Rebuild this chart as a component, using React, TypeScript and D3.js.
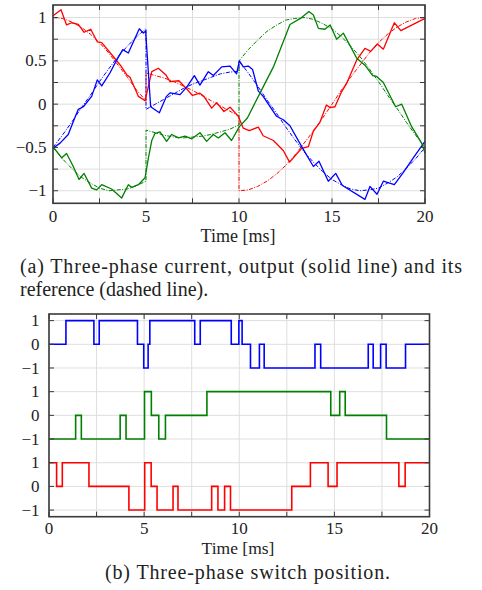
import React from "react";
import * as d3 from "d3";

// reference currents (dash-dot), sampled every 0.5 ms, steps at 5 ms and 10 ms
const refTime = [0, 0.5, 1, 1.5, 2, 2.5, 3, 3.5, 4, 4.5, 5, 5, 5.5, 6, 6.5, 7, 7.5, 8, 8.5, 9, 9.5, 10, 10, 10.5, 11, 11.5, 12, 12.5, 13, 13.5, 14, 14.5, 15, 15.5, 16, 16.5, 17, 17.5, 18, 18.5, 19, 19.5, 20];
const refRed = [1, 0.99, 0.95, 0.89, 0.81, 0.71, 0.59, 0.45, 0.31, 0.16, 0.04, 0.36, 0.33, 0.3, 0.26, 0.21, 0.16, 0.1, 0.04, -0.02, -0.08, -0.14, -1, -0.99, -0.95, -0.89, -0.81, -0.71, -0.59, -0.45, -0.31, -0.16, 0, 0.16, 0.31, 0.45, 0.59, 0.71, 0.81, 0.89, 0.95, 0.99, 1];
const refBlue = [-0.5, -0.36, -0.21, -0.05, 0.1, 0.26, 0.41, 0.55, 0.67, 0.78, 0.87, -0.06, 0, 0.06, 0.12, 0.18, 0.23, 0.27, 0.31, 0.35, 0.37, 0.38, 0.5, 0.36, 0.21, 0.05, -0.1, -0.26, -0.41, -0.55, -0.67, -0.78, -0.87, -0.93, -0.98, -1, -0.99, -0.97, -0.91, -0.84, -0.74, -0.63, -0.5];
const refGreen = [-0.5, -0.63, -0.74, -0.84, -0.91, -0.97, -1, -0.99, -0.98, -0.94, -0.89, -0.3, -0.33, -0.36, -0.38, -0.39, -0.38, -0.37, -0.35, -0.32, -0.29, -0.24, 0.5, 0.63, 0.74, 0.84, 0.91, 0.97, 0.99, 1, 0.98, 0.93, 0.87, 0.78, 0.67, 0.55, 0.41, 0.26, 0.1, -0.05, -0.21, -0.36, -0.5];

// measured currents (solid)
const redT = [0, 0.43, 0.73, 1.0, 1.36, 1.67, 2.03, 2.38, 2.62, 3.24, 3.64, 3.96, 4.14, 4.59, 4.95, 5.31, 5.66, 6.06, 6.29, 6.77, 7.1, 7.5, 7.9, 8.12, 8.53, 8.8, 9.19, 9.52, 9.96, 10.23, 10.55, 11.04, 11.3, 11.85, 12.38, 12.72, 13.37, 13.73, 14.0, 14.35, 14.7, 14.9, 15.16, 15.52, 15.79, 16.33, 16.77, 17.08, 17.44, 17.76, 18.35, 18.7, 20];
const redI = [1.02, 1.09, 0.915, 0.94, 0.92, 0.83, 0.865, 0.72, 0.71, 0.55, 0.445, 0.34, 0.31, 0.09, 0.04, 0.376, 0.415, 0.34, 0.26, 0.27, 0.196, 0.1, 0.127, 0.088, -0.046, 0.018, -0.085, -0.035, -0.14, -0.277, -0.305, -0.265, -0.365, -0.42, -0.535, -0.67, -0.51, -0.49, -0.31, -0.21, -0.01, -0.04, -0.03, 0.145, 0.24, 0.51, 0.645, 0.61, 0.695, 0.635, 0.94, 0.85, 0.99];
const blueT = [0, 0.38, 0.82, 1.13, 1.36, 1.63, 2.08, 2.38, 2.62, 3.06, 3.4, 3.75, 4.05, 4.64, 4.86, 4.98, 5.25, 5.72, 6.1, 6.29, 6.83, 7.2, 7.6, 7.9, 8.35, 8.62, 9.07, 9.52, 9.87, 10.02, 10.23, 10.5, 10.73, 11.04, 11.3, 12.02, 12.38, 12.74, 13.37, 14.0, 14.3, 14.8, 15.2, 15.56, 16.77, 17.04, 17.42, 17.76, 18.35, 18.8, 19.37, 20];
const blueI = [-0.51, -0.45, -0.35, -0.18, -0.06, -0.03, 0.09, 0.28, 0.21, 0.36, 0.5, 0.63, 0.59, 0.87, 0.82, 0.845, -0.03, -0.1, 0.09, 0.13, 0.11, 0.2, 0.33, 0.22, 0.375, 0.33, 0.43, 0.44, 0.35, 0.5, 0.43, 0.44, 0.4, 0.15, 0.09, -0.14, -0.18, -0.25, -0.49, -0.72, -0.66, -0.89, -0.8, -0.94, -1.1, -0.95, -1.04, -0.89, -0.93, -0.8, -0.62, -0.43];
const greenT = [0, 0.47, 0.73, 1.09, 1.4, 1.67, 2.08, 2.35, 2.62, 3.15, 3.69, 4.05, 4.23, 4.59, 4.95, 5.13, 5.31, 5.48, 5.75, 6.11, 6.38, 6.74, 7.1, 7.46, 7.9, 8.26, 8.62, 8.89, 9.25, 9.6, 10.02, 10.45, 11.3, 11.85, 12.74, 13.3, 13.76, 14.0, 14.27, 14.62, 14.9, 15.25, 15.61, 16.33, 16.77, 17.19, 17.4, 17.76, 18.42, 18.75, 19.28, 19.82, 20];
const greenI = [-0.49, -0.62, -0.57, -0.72, -0.87, -0.8, -0.97, -0.99, -0.93, -0.98, -1.085, -0.93, -0.96, -0.93, -0.85, -0.62, -0.42, -0.34, -0.32, -0.43, -0.35, -0.39, -0.37, -0.4, -0.33, -0.43, -0.35, -0.39, -0.33, -0.42, -0.26, -0.16, 0.2, 0.43, 0.92, 0.99, 1.07, 1.03, 0.875, 0.865, 0.915, 0.75, 0.82, 0.53, 0.45, 0.33, 0.32, 0.25, -0.03, 0.0, -0.26, -0.45, -0.565];

// switch positions (value holds from each time until the next)
const swBlueT = [0, 0.89, 2.36, 2.64, 4.65, 4.98, 5.21, 5.3, 7.66, 7.95, 9.58, 9.98, 10.15, 10.59, 11.06, 11.31, 13.98, 14.28, 16.78, 17.04, 17.43, 17.72, 18.74, 20];
const swBlue = [0, 1, 0, 1, 0, -1, 0, 1, 0, 1, 0, 1, 0, -1, 0, -1, 0, -1, 0, -1, 0, -1, 0, 0];
const swGreenT = [0, 1.4, 1.7, 3.74, 4.05, 5.02, 5.38, 5.77, 6.12, 8.3, 14.81, 15.28, 15.57, 17.74, 20];
const swGreen = [-1, 0, -1, 0, -1, 1, 0, -1, 0, 1, 0, 1, 0, -1, -1];
const swRedT = [0, 0.4, 0.7, 2.1, 4.2, 5.03, 5.37, 5.68, 6.52, 6.78, 8.55, 8.88, 9.23, 9.54, 12.76, 13.74, 14.67, 15.14, 18.39, 18.72, 20];
const swRed = [1, 0, 1, 0, -1, 1, 0, -1, 0, -1, 0, -1, 0, -1, 0, 1, 0, 1, 0, 1, 1];

const xTicks = [0, 5, 10, 15, 20];
const xMinor = [0, 2.5, 5, 7.5, 10, 12.5, 15, 17.5, 20];
const yTicksA = [1, 0.5, 0, -0.5, -1];
const yGridA = [-1, -0.75, -0.5, -0.25, 0, 0.25, 0.5, 0.75, 1];
const swLevels = [1, 0, -1];
const swOffsets = [3, 0, -3]; // blue, green, red rows

const BLUE = "#0000ff";
const GREEN = "#008000";
const RED = "#ff0000";
const FONT = "'Times New Roman', Times, 'Liberation Serif', Tinos, serif";
const fmt = (v: number) => (v < 0 ? "\u2212" + Math.abs(v) : String(v));

const zip = (t: number[], v: number[]) => t.map((d, i) => [d, v[i]] as [number, number]);

export default function App() {
  // (a) currents
  const xA = d3.scaleLinear().domain([0, 20]).range([53, 425]);
  const yA = d3.scaleLinear().domain([-1.145, 1.145]).range([203.3, 5]);
  const lineA = d3.line<[number, number]>().x((d) => xA(d[0])).y((d) => yA(d[1]));

  // (b) switch positions, three stacked rows
  const xB = d3.scaleLinear().domain([0, 20]).range([49, 429.5]);
  const yB = d3.scaleLinear().domain([-4.28, 4.28]).range([516.7, 314]);
  const stepB = (off: number) =>
    d3.line<[number, number]>().x((d) => xB(d[0])).y((d) => yB(d[1] + off)).curve(d3.curveStepAfter);

  const tick = 5;
  const frame = "#3a3a3a";
  const grid = "#dedede";

  const refs = [
    { v: refRed, c: RED },
    { v: refBlue, c: BLUE },
    { v: refGreen, c: GREEN },
  ];
  const meas = [
    { t: redT, v: redI, c: RED },
    { t: blueT, v: blueI, c: BLUE },
    { t: greenT, v: greenI, c: GREEN },
  ];
  const sw = [
    { t: swBlueT, v: swBlue, c: BLUE, off: swOffsets[0] },
    { t: swGreenT, v: swGreen, c: GREEN, off: swOffsets[1] },
    { t: swRedT, v: swRed, c: RED, off: swOffsets[2] },
  ];
  const rowLevels = swOffsets.flatMap((o) => swLevels.map((l) => ({ l, y: l + o })));

  const [ax0, ax1] = xA.range();
  const [ay1, ay0] = yA.range();
  const [bx0, bx1] = xB.range();
  const [by1, by0] = yB.range();

  return (
    <svg width={482} height={590} style={{ position: "absolute", left: 0, top: 0, background: "#fff", fontFamily: FONT }}>
      {/* ---- chart (a) ---- */}
      <g>
        {xMinor.map((t) => (
          <line key={"ga" + t} x1={xA(t)} x2={xA(t)} y1={ay0} y2={ay1} stroke={grid} strokeWidth={1} />
        ))}
        {yGridA.map((v) => (
          <line key={"gya" + v} x1={ax0} x2={ax1} y1={yA(v)} y2={yA(v)} stroke={grid} strokeWidth={1} />
        ))}
        {refs.map((r, i) => (
          <path key={"r" + i} d={lineA(zip(refTime, r.v)) || ""} fill="none" stroke={r.c} strokeWidth={1} strokeDasharray="4 1.5 1 1.5" />
        ))}
        {meas.map((m, i) => (
          <path key={"m" + i} d={lineA(zip(m.t, m.v)) || ""} fill="none" stroke={m.c} strokeWidth={1.3} strokeLinejoin="round" />
        ))}
        {xMinor.map((t) => (
          <g key={"ta" + t}>
            <line x1={xA(t)} x2={xA(t)} y1={ay1} y2={ay1 - tick} stroke={frame} />
            <line x1={xA(t)} x2={xA(t)} y1={ay0} y2={ay0 + tick} stroke={frame} />
          </g>
        ))}
        {yGridA.map((v) => (
          <g key={"tya" + v}>
            <line x1={ax0} x2={ax0 + tick} y1={yA(v)} y2={yA(v)} stroke={frame} />
            <line x1={ax1} x2={ax1 - tick} y1={yA(v)} y2={yA(v)} stroke={frame} />
          </g>
        ))}
        <rect x={ax0} y={ay0} width={ax1 - ax0} height={ay1 - ay0} fill="none" stroke={frame} strokeWidth={1.6} />
        {xTicks.map((t) => (
          <text key={"xla" + t} x={xA(t)} y={222} textAnchor="middle" fontSize={17} fill="#222">
            {t}
          </text>
        ))}
        {yTicksA.map((v) => (
          <text key={"yla" + v} x={46.5} y={yA(v)} dy="0.33em" textAnchor="end" fontSize={17} fill="#222">
            {fmt(v)}
          </text>
        ))}
        <text x={238} y={242} textAnchor="middle" fontSize={18} fill="#222">
          Time [ms]
        </text>
      </g>

      <text x={20} y={273} fontSize={20} fill="#222" textLength={442} lengthAdjust="spacing">
        (a) Three-phase current, output (solid line) and its
      </text>
      <text x={20} y={296} fontSize={20} fill="#222">
        reference (dashed line).
      </text>

      {/* ---- chart (b) ---- */}
      <g>
        {xMinor.map((t) => (
          <line key={"gb" + t} x1={xB(t)} x2={xB(t)} y1={by0} y2={by1} stroke={grid} strokeWidth={1} />
        ))}
        {rowLevels.map((r) => (
          <line key={"gyb" + r.y} x1={bx0} x2={bx1} y1={yB(r.y)} y2={yB(r.y)} stroke={grid} strokeWidth={1} />
        ))}
        {sw.map((s, i) => (
          <path key={"s" + i} d={stepB(s.off)(zip(s.t, s.v)) || ""} fill="none" stroke={s.c} strokeWidth={1.6} />
        ))}
        {xMinor.map((t) => (
          <g key={"tb" + t}>
            <line x1={xB(t)} x2={xB(t)} y1={by1} y2={by1 - tick} stroke={frame} />
            <line x1={xB(t)} x2={xB(t)} y1={by0} y2={by0 + tick} stroke={frame} />
          </g>
        ))}
        {rowLevels.map((r) => (
          <g key={"tyb" + r.y}>
            <line x1={bx0} x2={bx0 + tick} y1={yB(r.y)} y2={yB(r.y)} stroke={frame} />
            <line x1={bx1} x2={bx1 - tick} y1={yB(r.y)} y2={yB(r.y)} stroke={frame} />
          </g>
        ))}
        <rect x={bx0} y={by0} width={bx1 - bx0} height={by1 - by0} fill="none" stroke={frame} strokeWidth={1.6} />
        {xTicks.map((t) => (
          <text key={"xlb" + t} x={xB(t)} y={534} textAnchor="middle" fontSize={17} fill="#222">
            {t}
          </text>
        ))}
        {rowLevels.map((r) => (
          <text key={"ylb" + r.y} x={39.5} y={yB(r.y)} dy="0.33em" textAnchor="end" fontSize={17} fill="#222">
            {fmt(r.l)}
          </text>
        ))}
        <text x={238} y={554} textAnchor="middle" fontSize={17.5} fill="#222">
          Time [ms]
        </text>
      </g>

      <text x={247.5} y={579} textAnchor="middle" fontSize={20} fill="#222" textLength={285} lengthAdjust="spacing">
        (b) Three-phase switch position.
      </text>
    </svg>
  );
}
